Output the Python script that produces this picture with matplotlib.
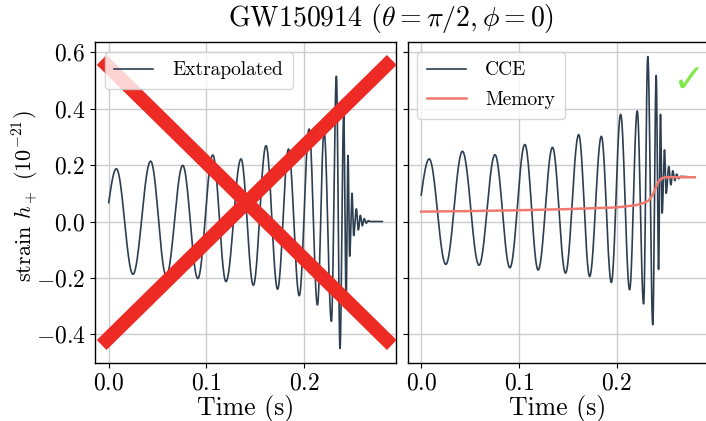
import numpy as np
import matplotlib
matplotlib.use("Agg")
import matplotlib.pyplot as plt

plt.rcParams['font.family'] = 'serif'
plt.rcParams['font.serif'] = ['cmr10']
plt.rcParams['mathtext.fontset'] = 'cm'
plt.rcParams['axes.formatter.use_mathtext'] = True
plt.rcParams['axes.unicode_minus'] = True

# turning points of the waveforms (time in s, strain in 1e-21)
t_extrap = [0.0, 0.0078, 0.0248, 0.0429, 0.0589, 0.0758, 0.0912, 0.1065, 0.1200, 0.1354,
            0.1480, 0.1610, 0.1728, 0.1840, 0.1950, 0.2051, 0.2136, 0.2204, 0.2279, 0.2330,
            0.2367, 0.2405, 0.2429, 0.2449, 0.2466, 0.2490, 0.2507, 0.2534, 0.2555, 0.2575,
            0.2595, 0.2615, 0.2635, 0.2655, 0.2675, 0.2800]
h_extrap = [0.067, 0.187, -0.187, 0.214, -0.193, 0.199, -0.202, 0.236, -0.213, 0.222,
            -0.226, 0.269, -0.240, 0.257, -0.263, 0.328, -0.296, 0.322, -0.354, 0.515,
            -0.450, 0.380, -0.290, 0.234, -0.123, 0.100, -0.050, 0.045, -0.030, 0.022,
            -0.015, 0.010, -0.006, 0.003, 0.0, 0.0]

t_cce = [0.0, 0.0082, 0.0252, 0.0422, 0.0592, 0.0755, 0.0908, 0.1061, 0.1197, 0.1344,
         0.1477, 0.1612, 0.1724, 0.1844, 0.1946, 0.2041, 0.2133, 0.2211, 0.2276, 0.2319,
         0.2370, 0.2405, 0.2429, 0.2449, 0.2466, 0.2490, 0.2507, 0.2534, 0.2555, 0.2575,
         0.2595, 0.2615, 0.2635, 0.2655, 0.2800]
h_cce = [0.094, 0.222, -0.152, 0.249, -0.155, 0.237, -0.164, 0.273, -0.172, 0.263,
         -0.183, 0.308, -0.195, 0.302, -0.216, 0.380, -0.242, 0.392, -0.292, 0.585,
         -0.366, 0.518, -0.170, 0.380, 0.030, 0.254, 0.100, 0.195, 0.130, 0.180,
         0.145, 0.168, 0.152, 0.160, 0.157]

t_mem = [0.0, 0.05, 0.10, 0.15, 0.20, 0.22, 0.228, 0.233, 0.237, 0.240, 0.243, 0.246, 0.250, 0.280]
h_mem = [0.035, 0.037, 0.040, 0.044, 0.050, 0.058, 0.066, 0.075, 0.095, 0.120, 0.142, 0.153, 0.157, 0.157]


def through_turning_points(tp, hp, n=40):
    # smooth half-cosine between successive turning points
    ts, hs = [], []
    for i in range(len(tp) - 1):
        s = np.linspace(0, 1, n, endpoint=False)
        if i == 0:
            w = np.sin(np.pi / 2 * s)
        else:
            w = (1 - np.cos(np.pi * s)) / 2
        ts.append(tp[i] + (tp[i + 1] - tp[i]) * s)
        hs.append(hp[i] + (hp[i + 1] - hp[i]) * w)
    ts.append([tp[-1]])
    hs.append([hp[-1]])
    return np.concatenate(ts), np.concatenate(hs)


fig = plt.figure(figsize=(7.06, 4.21), dpi=100)
ax1 = fig.add_axes([0.1346, 0.1378, 0.4263, 0.7625])
ax2 = fig.add_axes([0.5772, 0.1378, 0.4263, 0.7625], sharey=ax1)

wave_col = '#2c3e50'
x, y = through_turning_points(t_extrap, h_extrap)
ax1.plot(x, y, color=wave_col, lw=1.2, label='Extrapolated')
x, y = through_turning_points(t_cce, h_cce)
ax2.plot(x, y, color=wave_col, lw=1.2, label='CCE')
ax2.plot(t_mem, h_mem, color='#f07a70', lw=1.8, label='Memory')

for ax in (ax1, ax2):
    ax.grid(True, color='#cccccc', lw=1.0)
    ax.set_axisbelow(True)
    ax.set_xticks([0.0, 0.1, 0.2])
    ax.tick_params(labelsize=17, length=3.5, width=0.8)
    ax.set_xlabel('Time (s)', fontsize=18.5, labelpad=0)
    for sp in ax.spines.values():
        sp.set_linewidth(1.0)
plt.setp(ax2.get_yticklabels(), visible=False)

ax1.legend(loc='upper left', fontsize=14, handlelength=2.0, handletextpad=1.0,
           borderpad=0.5)
ax2.legend(loc='upper left', fontsize=14, handlelength=2.0, handletextpad=1.0,
           borderpad=0.5, labelspacing=0.6)

# big red cross over the left panel
ax1.plot([0.022, 0.986], [0.944, 0.056], color='#ee2a24', lw=10,
         solid_capstyle='butt', transform=ax1.transAxes, zorder=5)
ax1.plot([0.022, 0.986], [0.056, 0.944], color='#ee2a24', lw=10,
         solid_capstyle='butt', transform=ax1.transAxes, zorder=5)

# green tick on the right panel
fig.text(688 / 706, 1 - 81 / 421, '\u2713', family='DejaVu Sans', fontsize=28,
         color='#80e84a', ha='center', va='center')

fig.text(0.554, 0.995, r'GW150914 ($\theta=\pi/2, \phi=0$)', fontsize=20,
         ha='center', va='top')
fig.text(26 / 706, 0.535, r'strain $h_+$ $(10^{-21})$', fontsize=16,
         rotation=90, ha='center', va='center')

fig.savefig('out.png', dpi=100)
